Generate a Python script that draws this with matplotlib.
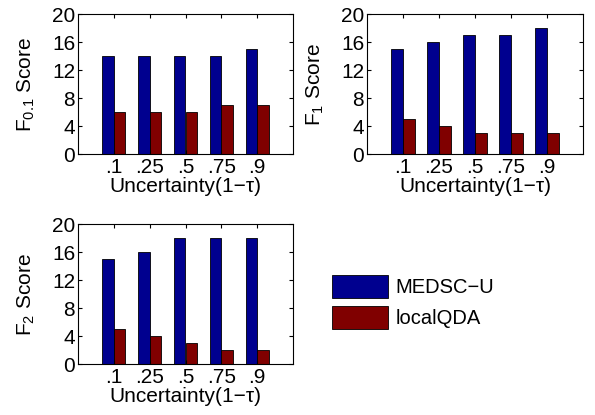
import matplotlib
matplotlib.use("Agg")
import matplotlib.pyplot as plt
import numpy as np

plt.rcParams['font.family'] = ['Liberation Sans', 'DejaVu Sans']
plt.rcParams['mathtext.fontset'] = 'custom'
plt.rcParams['mathtext.rm'] = 'Liberation Sans'
plt.rcParams['mathtext.it'] = 'Liberation Sans'

tick_labels = ['.1', '.25', '.5', '.75', '.9']
series_names = ['MEDSC\u2212U', 'localQDA']
f01_medsc = [14, 14, 14, 14, 15]
f01_local = [6, 6, 6, 7, 7]
f1_medsc = [15, 16, 17, 17, 18]
f1_local = [5, 4, 3, 3, 3]
f2_medsc = [15, 16, 18, 18, 18]
f2_local = [5, 4, 3, 2, 2]
ylabels = ['F$_{0.1}$ Score', 'F$_{1}$ Score', 'F$_{2}$ Score']
xlabel = 'Uncertainty(1\u2212\u03c4)'
colors = ['#00008F', '#800000']

W, H = 595, 415
fig = plt.figure(figsize=(W/100, H/100), dpi=100)

def ax_rect(l, t, r, b):
    return [l/W, 1 - b/H, (r-l)/W, (b-t)/H]

rects = [ax_rect(78, 14, 293, 154), ax_rect(367, 14, 583, 154), ax_rect(78, 224, 293, 364)]
data = [(f01_medsc, f01_local), (f1_medsc, f1_local), (f2_medsc, f2_local)]
fs = 15
bw = 0.32
handles = None
for rect, (a, b), yl in zip(rects, data, ylabels):
    ax = fig.add_axes(rect)
    x = np.arange(1, len(tick_labels) + 1)
    h1 = ax.bar(x - bw/2, a, bw, color=colors[0], edgecolor='black', linewidth=0.6)
    h2 = ax.bar(x + bw/2, b, bw, color=colors[1], edgecolor='black', linewidth=0.6)
    handles = [h1, h2]
    ax.set_xlim(0, 6)
    ax.set_ylim(0, 20)
    ax.set_yticks([0, 4, 8, 12, 16, 20])
    ax.set_xticks(x)
    ax.set_xticklabels(tick_labels)
    ax.tick_params(direction='in', top=True, right=True, labelsize=fs, length=3)
    ax.tick_params(axis='x', pad=3)
    ax.tick_params(axis='y', pad=2)
    ax.set_xlabel(xlabel, fontsize=fs, labelpad=0)
    ax.set_ylabel(yl, fontsize=fs, labelpad=11)
    for s in ax.spines.values():
        s.set_linewidth(0.8)

fig.legend(handles, series_names, loc='upper left', bbox_to_anchor=(332/W, 1 - 275/H),
           frameon=False, fontsize=14.5, handlelength=2.8, handleheight=1.35,
           labelspacing=0.44, handletextpad=0.34, borderpad=0, borderaxespad=0)

fig.savefig('out.png', dpi=100)
